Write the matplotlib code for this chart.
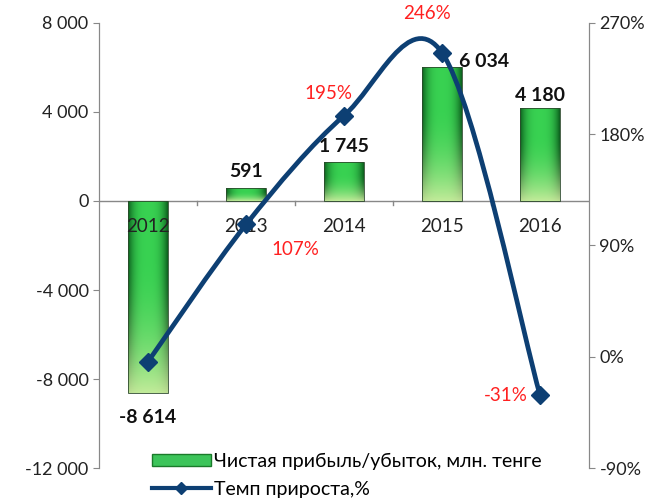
import numpy as np
import matplotlib.pyplot as plt
from matplotlib.path import Path
from matplotlib.patches import PathPatch, Patch
from matplotlib.lines import Line2D

# данные
years = ["2012", "2013", "2014", "2015", "2016"]
profit = [-8614, 591, 1745, 6034, 4180]
growth = [-4, 107, 195, 246, -31]
profit_labels = ["-8 614", "591", "1 745", "6 034", "4 180"]
growth_labels = ["", "107%", "195%", "246%", "-31%"]

plt.rcParams["font.family"] = ["Lato", "DejaVu Sans"]

fig = plt.figure(figsize=(6.57, 5.04), dpi=100)
ax = fig.add_axes([0.1507, 0.0714, 0.7458, 0.883])
ax2 = ax.twinx()

x = np.arange(len(years))
bw = 0.4

# бары с градиентом
bars = ax.bar(x, profit, width=bw, color="none", edgecolor="#2d4a2d",
              linewidth=0.6, zorder=3)
h = np.linspace(0, 1, 60)
v = np.linspace(0, 1, 100)
H, V = np.meshgrid(h, v)
edge = np.abs(H - 0.5) * 2
dark = np.array([0.05, 0.38, 0.12])
mid = np.array([0.22, 0.82, 0.32])
light = np.array([0.85, 0.94, 0.65])
k = edge[..., None] ** 3
base = mid[None, None, :] * (1 - k) + dark[None, None, :] * k
# низ светлее
fade = np.clip(1 - V * 1.4, 0, 1)[..., None] ** 2
img = base * (1 - 0.85 * fade) + light[None, None, :] * 0.85 * fade
for b in bars:
    x0, y0 = b.get_x(), b.get_y()
    w, hh = b.get_width(), b.get_height()
    ylo, yhi = min(y0, y0 + hh), max(y0, y0 + hh)
    im = ax.imshow(img, extent=[x0, x0 + w, ylo, yhi], origin="lower",
                   aspect="auto", zorder=2)
    im.set_clip_path(b)

ax.set_xlim(-0.5, 4.5)
ax.set_ylim(-12000, 8000)
ax.set_yticks([-12000, -8000, -4000, 0, 4000, 8000])
ax.set_yticklabels(["-12 000", "-8 000", "-4 000", "0", "4 000", "8 000"])
ax.set_xticks([])
ax.axhline(0, color="#888888", lw=1, zorder=1)
for xb in [0.5, 1.5, 2.5, 3.5]:
    ax.plot([xb, xb], [0, -200], color="#888888", lw=1, zorder=1)
for xi, yr in zip(x, years):
    ax.text(xi, -1150, yr, ha="center", va="center", fontsize=13.5,
            color="#222222", zorder=4)

# подписи баров
pos = [(0, -9730, "center"), (1, 1335, "center"), (2, 2460, "center"),
       (3.17, 6280, "left"), (4, 4750, "center")]
for (px, py, ha), lab in zip(pos, profit_labels):
    ax.text(px, py, lab, ha=ha, va="center", fontsize=14, fontweight="bold",
            color="#111111", zorder=5)

ax2.set_ylim(-90, 270)
ax2.set_yticks([-90, 0, 90, 180, 270])
ax2.set_yticklabels(["-90%", "0%", "90%", "180%", "270%"])

# сглаженная линия (Catmull-Rom -> Bezier)
pts = np.column_stack([x, growth]).astype(float)
ext = np.vstack([pts[0], pts, pts[-1]])
verts = [tuple(pts[0])]
codes = [Path.MOVETO]
for i in range(len(pts) - 1):
    p0, p1, p2, p3 = ext[i], ext[i + 1], ext[i + 2], ext[i + 3]
    c1 = p1 + (p2 - p0) / 6
    c2 = p2 - (p3 - p1) / 6
    verts += [tuple(c1), tuple(c2), tuple(p2)]
    codes += [Path.CURVE4] * 3
line_color = "#0d3f73"
ax2.add_patch(PathPatch(Path(verts, codes), fill=False, edgecolor=line_color,
                        lw=3.4, zorder=4, capstyle="round"))
ax2.plot(x, growth, linestyle="none", marker="D", markersize=9,
         color=line_color, zorder=5)

gpos = [None, (1.5, 87, "center"), (1.84, 213, "center"),
        (2.85, 278, "center"), (3.87, -31, "right")]
for g, lab in zip(gpos, growth_labels):
    if g is None:
        continue
    ax2.text(g[0], g[1], lab, ha=g[2], va="center", fontsize=13.5,
             color="#ff2020", zorder=6)

for a in (ax, ax2):
    a.spines["top"].set_visible(False)
    a.spines["bottom"].set_visible(False)
    a.spines["left"].set_color("#888888")
    a.spines["right"].set_color("#888888")
    a.tick_params(axis="y", colors="#888888", labelcolor="#222222",
                  labelsize=13, length=4)
ax.set_zorder(0)
ax2.set_zorder(1)
ax2.patch.set_visible(False)
ax.patch.set_visible(False)

handles = [Patch(facecolor="#3cc45a", edgecolor="#1a7a2a"),
           Line2D([0], [0], color=line_color, lw=3, marker="D", markersize=6)]
fig.legend(handles, ["Чистая прибыль/убыток, млн. тенге", "Темп прироста,%"],
           loc="lower left", bbox_to_anchor=(0.205, -0.022), frameon=False,
           fontsize=14, handlelength=3.0, handletextpad=0.2, labelspacing=0.55,
           handleheight=0.5)

fig.savefig("out.png", dpi=100)
